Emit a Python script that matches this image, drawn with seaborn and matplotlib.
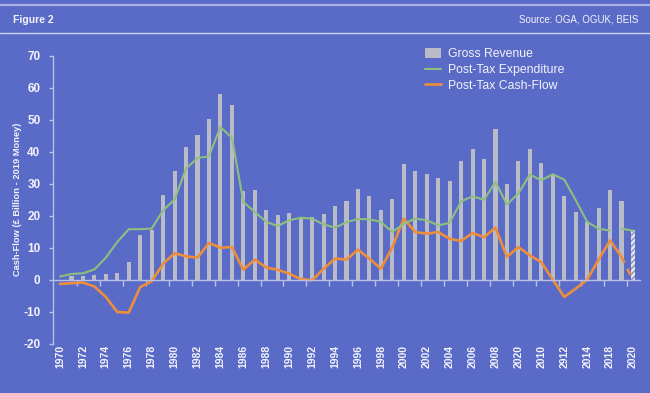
import numpy as np
import pandas as pd
import matplotlib
matplotlib.use("Agg")
import matplotlib.pyplot as plt
from matplotlib.lines import Line2D
import seaborn as sns

# data (£ billion, 2019 money)
years = list(range(1970, 2021))
gross_revenue = [0.0, 1.0, 1.1, 1.6, 1.8, 2.0, 5.6, 14.0, 15.4, 26.4,
                 33.9, 41.6, 45.2, 50.3, 58.0, 54.6, 27.7, 28.0, 21.7, 20.2,
                 20.9, 19.6, 19.6, 20.7, 23.0, 24.5, 28.5, 26.1, 21.7, 25.3,
                 36.1, 34.0, 33.2, 31.8, 30.8, 37.1, 40.8, 37.7, 47.1, 29.9,
                 37.1, 40.8, 36.4, 33.0, 26.1, 21.1, 18.2, 22.3, 28.0, 24.5,
                 15.4]
post_tax_expenditure = [1.0, 1.8, 2.0, 3.2, 6.9, 11.8, 15.8, 15.8, 16.0, 21.7,
                        25.1, 34.8, 38.1, 38.6, 47.8, 44.4, 24.3, 21.2, 18.1, 16.8,
                        18.6, 19.4, 19.1, 17.3, 16.3, 18.0, 19.0, 18.9, 18.1, 14.9,
                        17.5, 19.1, 18.6, 17.0, 17.8, 24.5, 26.1, 25.0, 30.6, 23.5,
                        27.0, 32.9, 31.1, 33.0, 31.3, 24.9, 18.1, 15.9, 15.4, 16.0,
                        15.3]
post_tax_cashflow = [-1.3, -1.1, -0.9, -2.1, -5.4, -10.1, -10.3, -2.3, -0.5, 5.0,
                     8.3, 7.3, 6.9, 11.5, 10.0, 10.2, 3.1, 6.3, 3.8, 3.1,
                     1.9, 0.2, -0.2, 3.4, 6.6, 6.3, 9.4, 6.6, 3.4, 10.2,
                     19.1, 14.9, 14.4, 14.9, 12.8, 12.1, 14.6, 13.3, 16.3, 7.1,
                     10.2, 7.6, 5.5, 0.0, -5.4, -2.8, 0.0, 6.3, 12.3, 7.1,
                     -0.2]
# tick labels as printed on the original
tick_years = list(range(1970, 2021, 2))
tick_labels = ["1970", "1972", "1974", "1976", "1978", "1980", "1982", "1984",
               "1986", "1988", "1990", "1992", "1994", "1996", "1998", "2000",
               "2002", "2004", "2006", "2008", "2020", "2010", "2912", "2014",
               "2018", "2020"]

df = pd.DataFrame({"Year": years, "Gross": gross_revenue,
                   "Expenditure": post_tax_expenditure, "CashFlow": post_tax_cashflow})

BG = "#5a6bc7"
BAR = "#b9bbc7"
GREEN = "#8fbf7d"
ORANGE = "#ef8e3a"
WHITE = "#f2f3fa"
AXIS = "#b9c0e6"

sns.set_theme(style="white")
plt.rcParams["font.family"] = ["Liberation Sans", "DejaVu Sans"]

fig = plt.figure(figsize=(6.5, 3.93), dpi=100, facecolor=BG)
ax = fig.add_axes([53 / 650, 1 - 343.6 / 393, 587 / 650, 287.6 / 393])
ax.set_facecolor(BG)

sns.barplot(data=df, x="Year", y="Gross", native_scale=True, width=0.36,
            color=BAR, saturation=1, linewidth=0, ax=ax, label="Gross Revenue")
# 2020 estimate is hatched
last = ax.patches[-1]
last.set_facecolor("#e4e5ee")
last.set_edgecolor("#8d90a8")
last.set_hatch("//////")
last.set_linewidth(0)

cf_main = df[df["Year"] <= 2019]
cf_tail = df[df["Year"] >= 2019]
sns.lineplot(data=cf_main, x="Year", y="CashFlow", color=ORANGE, lw=1.9, ax=ax,
             label="Post-Tax Cash-Flow")
sns.lineplot(data=cf_tail, x="Year", y="CashFlow", color=ORANGE, lw=1.9, ax=ax,
             linestyle=(0, (2.5, 2.5)))
main = df[df["Year"] <= 2018]
tail = df[df["Year"] >= 2019]
sns.lineplot(data=main, x="Year", y="Expenditure", color=GREEN, lw=1.5, ax=ax,
             label="Post-Tax Expenditure")
sns.lineplot(data=tail, x="Year", y="Expenditure", color=GREEN, lw=1.5, ax=ax)

ax.set_xlim(1969.39, 2020.61)
ax.set_ylim(-20, 70)
ax.set_yticks(range(-20, 71, 10))
ax.set_yticklabels([str(v) for v in range(-20, 71, 10)])

# x axis sits on zero, labels at the bottom
ax.spines["bottom"].set_position(("data", 0))
ax.spines["bottom"].set_color(AXIS)
ax.spines["bottom"].set_linewidth(1)
ax.spines["left"].set_color(AXIS)
ax.spines["left"].set_linewidth(1)
ax.spines["top"].set_visible(False)
ax.spines["right"].set_visible(False)
ax.set_xticks(tick_years)
ax.set_xticklabels(tick_labels, rotation=90, color=WHITE, fontsize=7.5,
                   fontweight="bold")
ax.set_xticks(np.arange(1971.5, 2021, 2), minor=True)
ax.tick_params(axis="x", which="major", length=0, pad=47)
ax.tick_params(axis="x", which="minor", length=4, color=AXIS, width=1,
               direction="out", bottom=True)
ax.tick_params(axis="y", length=3, color=AXIS, width=1, left=True,
               labelcolor=WHITE, labelsize=8.5, pad=6)
for t in ax.get_yticklabels():
    t.set_fontweight("bold")

ax.set_xlabel("")
ax.set_ylabel("Cash-Flow (£ Billion - 2019 Money)", color=WHITE, fontsize=6.7,
              fontweight="bold", labelpad=1)

handles, labels = ax.get_legend_handles_labels()
order = [labels.index(n) for n in
         ["Gross Revenue", "Post-Tax Expenditure", "Post-Tax Cash-Flow"]]
leg = ax.legend([handles[i] for i in order], [labels[i] for i in order],
                loc="upper left", bbox_to_anchor=(0.615, 1.065), frameon=False,
                fontsize=8.8, handlelength=1.3, handleheight=0.8,
                labelspacing=0.3, handletextpad=0.6)
for txt in leg.get_texts():
    txt.set_color(WHITE)

# header strip
fig.add_artist(Line2D([0, 1], [1 - 5 / 393, 1 - 5 / 393], color="#a9b3e6",
                      lw=1.6, transform=fig.transFigure))
fig.add_artist(Line2D([0, 1], [1 - 33 / 393, 1 - 33 / 393], color="#cdd2f0",
                      lw=1.0, transform=fig.transFigure))
fig.text(13 / 650, 1 - 20 / 393, "Figure 2", color=WHITE, fontsize=7.5,
         fontweight="bold", va="center", ha="left")
fig.text(638 / 650, 1 - 20 / 393, "Source: OGA, OGUK, BEIS", color=WHITE,
         fontsize=7, va="center", ha="right")

fig.savefig("out.png", dpi=100, facecolor=BG)
